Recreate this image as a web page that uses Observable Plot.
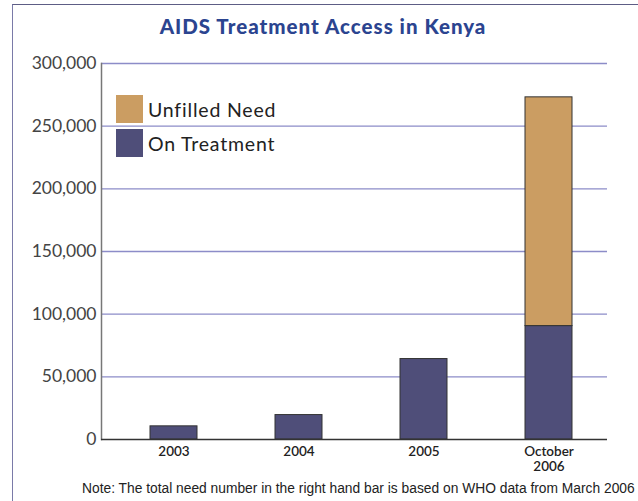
<!DOCTYPE html>
<html><head><meta charset="utf-8">
<script src="https://cdn.jsdelivr.net/npm/d3@7"></script>
<script src="https://cdn.jsdelivr.net/npm/@observablehq/plot@0.6"></script>
<style>
html,body{margin:0;padding:0;background:#fff;}
#wrap{position:relative;width:638px;height:501px;overflow:hidden;font-family:Lato,sans-serif;}
#frame{position:absolute;left:12px;top:4px;width:700px;height:600px;border-left:1.5px solid #7a7aa8;border-top:1.5px solid #5d5d85;}
#title{position:absolute;left:0;width:646px;top:14px;text-align:center;font-family:Lato,sans-serif;font-weight:900;font-size:20.5px;letter-spacing:1.0px;line-height:24px;color:#2b4490;}
#chart{position:absolute;left:0;top:45px;}
#legend{position:absolute;left:116px;top:95px;}
.item{display:flex;align-items:center;height:28px;margin-bottom:6px;font-size:19.5px;letter-spacing:0.8px;color:#222;}
.sw{width:27px;height:28px;margin-right:5px;flex:none;}
#note{position:absolute;left:82px;top:481px;font-family:"Liberation Sans",Arial,sans-serif;font-size:13.8px;color:#222;white-space:nowrap;}
</style>
</head><body>
<div id="wrap">
  <div id="frame"></div>
  <div id="title"></div>
  <div id="chart"></div>
  <div id="legend"></div>
  <div id="note"></div>
</div>
<script>
const title = "AIDS Treatment Access in Kenya";
const note = "Note: The total need number in the right hand bar is based on WHO data from March 2006";
const periods = ["2003", "2004", "2005", "October 2006"];
const periodLabels = ["2003", "2004", "2005", "October\n2006"];
const onTreatment = [10500, 19500, 64200, 90500];
const unfilledNeed = [0, 0, 0, 182500];
const seriesNames = ["On Treatment", "Unfilled Need"];
const legendOrder = ["Unfilled Need", "On Treatment"];
const seriesColors = ["#4f4e79", "#cb9d62"];
const yTicks = [0, 50000, 100000, 150000, 200000, 250000, 300000];

const rows = [];
periods.forEach((p, i) => {
  if (onTreatment[i] > 0) rows.push({period: p, series: seriesNames[0], value: onTreatment[i]});
  if (unfilledNeed[i] > 0) rows.push({period: p, series: seriesNames[1], value: unfilledNeed[i]});
});

document.getElementById("title").textContent = title;
document.getElementById("note").textContent = note;
const colorOf = Object.fromEntries(seriesNames.map((s, i) => [s, seriesColors[i]]));
const legend = document.getElementById("legend");
legendOrder.forEach(s => {
  const it = document.createElement("div"); it.className = "item";
  const sw = document.createElement("div"); sw.className = "sw"; sw.style.background = colorOf[s];
  const t = document.createElement("span"); t.textContent = s;
  it.appendChild(sw); it.appendChild(t); legend.appendChild(it);
});

const chart = Plot.plot({
  width: 638,
  height: 430,
  marginTop: 18,
  marginBottom: 36,
  marginLeft: 101,
  marginRight: 31,
  style: {fontFamily: "Lato, sans-serif", background: "transparent"},
  x: {type: "band", domain: periods, range: [110, 611], padding: 0, axis: null, label: null},
  y: {domain: [0, 300000], axis: null, label: null},
  color: {domain: seriesNames, range: seriesColors},
  marks: [
    Plot.ruleY(yTicks.filter(d => d > 0), {stroke: "#8c8cc8", strokeWidth: 1.3}),
    Plot.barY(rows, {x: "period", y: "value", fill: "series", stroke: "#333", strokeWidth: 1, insetLeft: 39, insetRight: 39}),
    Plot.frame({anchor: "left", stroke: "#777", strokeWidth: 1.5}),
    Plot.ruleY([0], {stroke: "#333", strokeWidth: 1.5}),
    Plot.axisY({ticks: yTicks, label: null, tickSize: 0, tickPadding: 5, tickFormat: d3.format(","), fontSize: 17.5, fontWeight: 400, fill: "#444"}),
    Plot.axisX({label: null, tickSize: 0, tickPadding: 6, fontSize: 13.5, fontWeight: 600, fill: "#222", lineHeight: 1.12,
      tickFormat: d => periodLabels[periods.indexOf(d)]})
  ]
});
document.getElementById("chart").appendChild(chart);
</script>
</body></html>
